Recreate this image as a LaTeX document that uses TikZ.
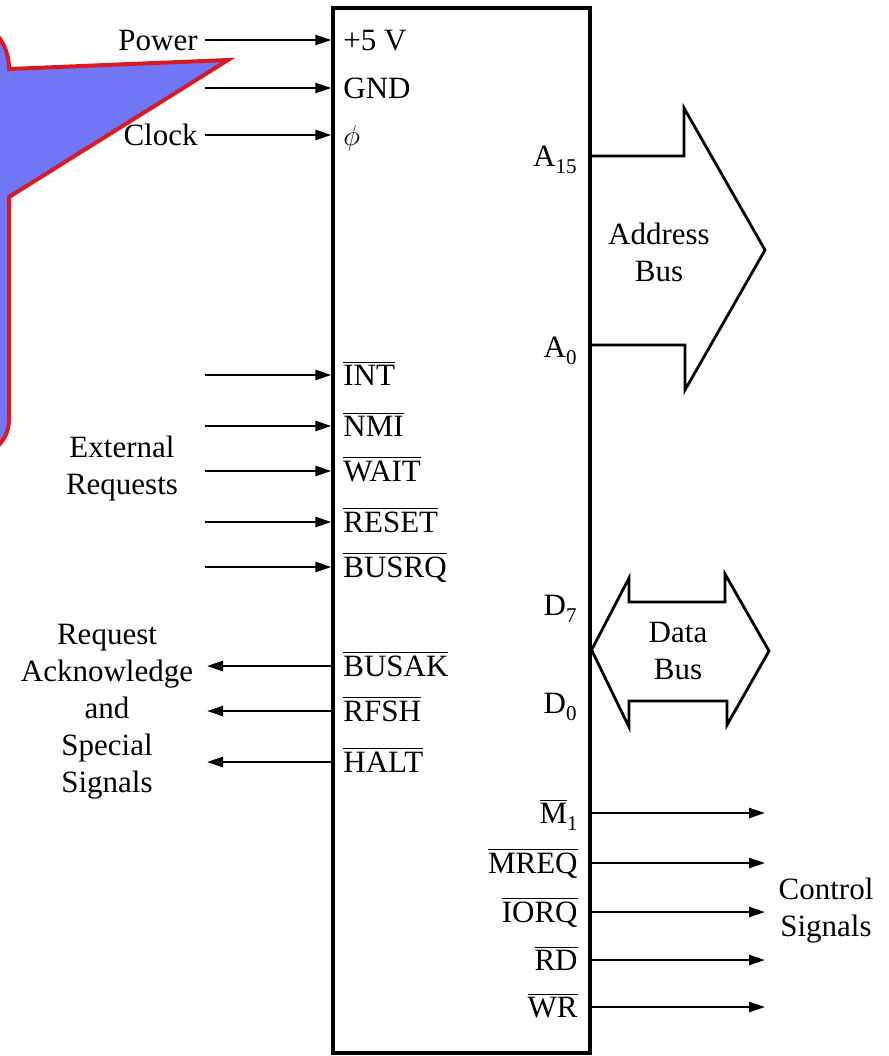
\documentclass[tikz,border=0pt]{standalone}
\usepackage{fontspec}
\setmainfont{Liberation Serif}
\usepackage{xcolor}
\usetikzlibrary{arrows.meta,positioning}
\definecolor{calloutblue}{HTML}{7076F5}
\definecolor{calloutred}{HTML}{D91A21}
\newcommand{\nbar}[1]{$\overline{\mbox{#1}}$}
\newcommand{\pinsub}[1]{\raisebox{-0.55ex}{\fontsize{10.5}{11}\selectfont #1}}

\begin{document}
\begin{tikzpicture}[
  x=0.5pt, y=-0.5pt,
  >={Triangle[length=8pt,width=5pt]},
  font={\fontsize{15.5}{18.5}\selectfont},
  chip/.style={draw, line width=1.6pt, minimum width=128.5pt, minimum height=522.5pt, inner sep=0pt},
  pinl/.style={inner sep=0pt, anchor=base west},
  pinr/.style={inner sep=0pt, anchor=base east},
  lbl/.style={inner sep=0pt, align=center},
  sig/.style={->, line width=1.2pt},
  bus/.style={draw, line width=1.4pt},
  callout/.style={fill=calloutblue, draw=calloutred, line width=2pt}
]
  \clip (0,0) rectangle (889,1056);

  % callout overlay
  \draw[callout] (-80,22) -- (-31,22) .. controls (-9,22) and (9,42) .. (9,69)
    -- (228,60) -- (9,197) -- (9,420) .. controls (9,439) and (-6,455) .. (-25,455)
    -- (-80,455) -- cycle;

  \node[chip] (cpu) at (461.5,530.5) {};

  % inputs
  \node[pinl] (vcc) at (343,50) {+5 V};
  \node[pinl] (gnd) at (343,98) {GND};
  \node[pinl] (clk) at (343,145) {$\phi$};
  \node[pinl] (int) at (343,385) {\nbar{INT}};
  \node[pinl] (nmi) at (343,436) {\nbar{NMI}};
  \node[pinl] (wait) at (343,481) {\nbar{WAIT}};
  \node[pinl] (reset) at (343,532) {\nbar{RESET}};
  \node[pinl] (busrq) at (343,577) {\nbar{BUSRQ}};

  \node[pinr] (power) at (198,50) {Power};
  \node[pinr] (clock) at (198,145) {Clock};
  \node[lbl] (extreq) at (122,469) {External\\Requests};

  \coordinate (vcc-in) at (205,40);
  \coordinate (gnd-in) at (205,88);
  \coordinate (clk-in) at (205,135);
  \coordinate (int-in) at (205,375);
  \coordinate (nmi-in) at (205,426);
  \coordinate (wait-in) at (205,471);
  \coordinate (reset-in) at (205,522);
  \coordinate (busrq-in) at (205,567);

  \foreach \p in {vcc,gnd,clk,int,nmi,wait,reset,busrq}
    \draw[sig] (\p-in) -- (\p-in -| cpu.west);

  % acknowledge outputs
  \node[pinl] (busak) at (343,676) {\nbar{BUSAK}};
  \node[pinl] (rfsh) at (343,721) {\nbar{RFSH}};
  \node[pinl] (halt) at (343,772) {\nbar{HALT}};
  \node[lbl] (ackn) at (107,712) {Request\\Acknowledge\\and\\Special\\Signals};

  \coordinate (busak-out) at (207,666);
  \coordinate (rfsh-out) at (207,711);
  \coordinate (halt-out) at (207,762);

  \foreach \p in {busak,rfsh,halt}
    \draw[sig] (\p-out -| cpu.west) -- (\p-out);

  % address bus
  \node[pinr] (a15) at (577,166) {A\pinsub{15}};
  \node[pinr] (a0) at (577,357) {A\pinsub{0}};
  \draw[bus] (cpu.east |- 0,156) -- (684,156) -- (684,108) -- (765,250)
    -- (685,390) -- (685,345) -- (cpu.east |- 0,345);
  \node[lbl] (abus) at (659,252) {Address\\Bus};

  % data bus
  \node[pinr] (d7) at (577,615) {D\pinsub{7}};
  \node[pinr] (d0) at (577,713) {D\pinsub{0}};
  \draw[bus] (cpu.east |- 0,650) -- (629,578) -- (629,602) -- (725,602) -- (725,574)
    -- (769,651) -- (727,725) -- (727,701) -- (629,701) -- (629,727) -- cycle;
  \node[lbl] (dbus) at (678,651) {Data\\Bus};

  % control outputs
  \node[pinr] (m1) at (578,823) {\nbar{M}\pinsub{1}};
  \node[pinr] (mreq) at (578,873) {\nbar{MREQ}};
  \node[pinr] (iorq) at (578,922) {\nbar{IORQ}};
  \node[pinr] (rd) at (578,970) {\nbar{RD}};
  \node[pinr] (wr) at (578,1017) {\nbar{WR}};
  \node[lbl] (ctrl) at (826,911) {Control\\Signals};

  \coordinate (m1-out) at (765,813);
  \coordinate (mreq-out) at (765,863);
  \coordinate (iorq-out) at (765,912);
  \coordinate (rd-out) at (765,960);
  \coordinate (wr-out) at (765,1007);

  \foreach \p in {m1,mreq,iorq,rd,wr}
    \draw[sig] (\p-out -| cpu.east) -- (\p-out);
\end{tikzpicture}
\end{document}
